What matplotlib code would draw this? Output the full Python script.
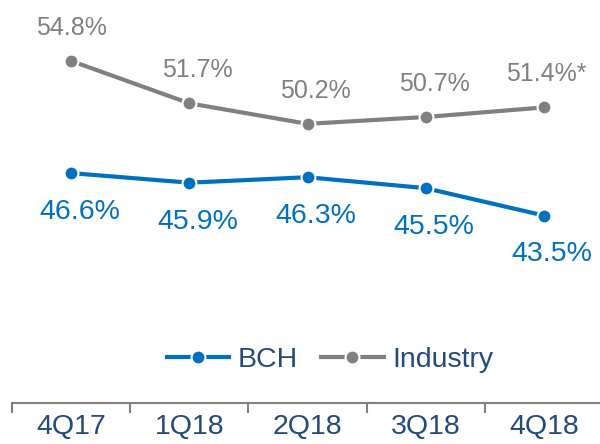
import matplotlib
matplotlib.use("Agg")
import matplotlib.pyplot as plt

plt.rcParams['font.family'] = ['Liberation Sans Narrow', 'Liberation Sans', 'DejaVu Sans']

# ======================================================
# Data
# ======================================================
quarters = ["4Q17", "1Q18", "2Q18", "3Q18", "4Q18"]
bch = [46.6, 45.9, 46.3, 45.5, 43.5]
industry = [54.8, 51.7, 50.2, 50.7, 51.4]
industry_labels = ["54.8%", "51.7%", "50.2%", "50.7%", "51.4%*"]

BLUE = "#0070C0"
GRAY = "#808080"
NAVY = "#244A7C"

fig = plt.figure(figsize=(6, 4.44), dpi=100)
ax = fig.add_axes([0.02, 0.0923, 0.985, 0.9077])

x = list(range(len(quarters)))
ax.plot(x, bch, color=BLUE, lw=3, marker="o", ms=10, mec="white", mew=1.5, label="BCH")
ax.plot(x, industry, color=GRAY, lw=3, marker="o", ms=10, mec="white", mew=1.5, label="Industry")

for i, v in enumerate(bch):
    ax.annotate(f"{v:.1f}%", (i, v), xytext=(6, -28), textcoords="offset points",
                ha="center", va="center", color=BLUE, fontsize=20.5)
for i, lab in enumerate(industry_labels):
    dx = 6 if i > 0 else 0
    if lab.endswith("*"):
        dx = 2
    ax.annotate(lab, (i, industry[i]), xytext=(dx, 24), textcoords="offset points",
                ha="center", va="center", color=GRAY, fontsize=18)

ax.set_xlim(-0.5, 4.5)
ax.set_ylim(29.8, 59.25)
ax.set_yticks([])
ax.set_xticks(x)
ax.set_xticklabels(quarters, fontsize=20.5, color=NAVY)
ax.set_xticks([i - 0.5 for i in range(6)], minor=True)
ax.tick_params(axis="x", which="major", length=0, pad=8)
ax.tick_params(axis="x", which="minor", length=7, width=1.5, color=GRAY, direction="out")
for s in ["top", "right", "left"]:
    ax.spines[s].set_visible(False)
ax.spines["bottom"].set_color(GRAY)
ax.spines["bottom"].set_linewidth(1.5)

leg = ax.legend(loc="center", bbox_to_anchor=(0.55, 0.19), bbox_transform=fig.transFigure,
                ncol=2, frameon=False, fontsize=20.5, handlelength=2.2, columnspacing=0.8,
                handletextpad=0.3)
for t in leg.get_texts():
    t.set_color(NAVY)

fig.savefig("out.png", dpi=100)
